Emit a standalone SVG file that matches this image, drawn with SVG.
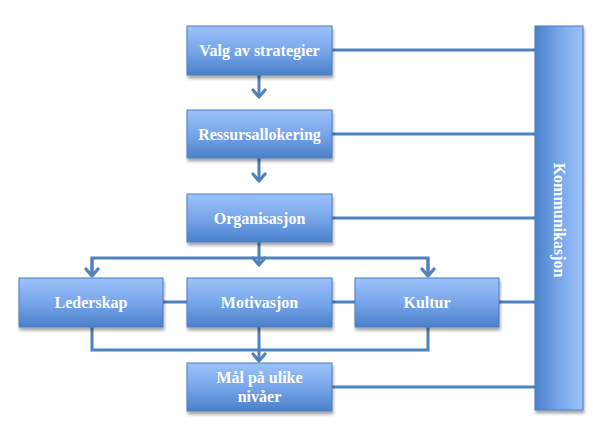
<svg xmlns="http://www.w3.org/2000/svg" width="604" height="436" viewBox="0 0 604 436">
<defs>
<linearGradient id="gv" x1="0" y1="0" x2="0" y2="1">
<stop offset="0" stop-color="#9cc2fb"/>
<stop offset="0.5" stop-color="#78a6ea"/>
<stop offset="1" stop-color="#4a80cb"/>
</linearGradient>
<linearGradient id="gh" x1="0" y1="0" x2="1" y2="0">
<stop offset="0" stop-color="#4a80cb"/>
<stop offset="0.5" stop-color="#78a6ea"/>
<stop offset="1" stop-color="#9cc2fb"/>
</linearGradient>
<filter id="sh" x="-10%" y="-10%" width="125%" height="130%">
<feGaussianBlur in="SourceAlpha" stdDeviation="1.5"/>
<feOffset dx="1" dy="2.5"/>
<feComponentTransfer><feFuncA type="linear" slope="0.35"/></feComponentTransfer>
<feMerge><feMergeNode/><feMergeNode in="SourceGraphic"/></feMerge>
</filter>
<marker id="ar" markerUnits="userSpaceOnUse" markerWidth="12" markerHeight="16" refX="10" refY="8" orient="auto" viewBox="0 0 12 16">
<path d="M3 2 L10 8 L3 14" fill="none" stroke="#4f81bd" stroke-width="3.2" stroke-linecap="round" stroke-linejoin="round"/>
</marker>
</defs>
<style>
.c{fill:none;stroke:#4f81bd;stroke-width:3}
.b{fill:url(#gv);stroke:#4a7ebb;stroke-width:1;filter:url(#sh)}
.t{font-family:"Liberation Serif","DejaVu Serif",serif;font-weight:bold;font-size:16px;fill:#ffffff;text-anchor:middle}
</style>
<g id="connectors">
<path class="c" d="M332 50 H535"/>
<path class="c" d="M332 134 H535"/>
<path class="c" d="M332 218 H535"/>
<path class="c" d="M499 302 H535"/>
<path class="c" d="M332 387 H535"/>
<path class="c" d="M259 75 V97" marker-end="url(#ar)"/>
<path class="c" d="M259 158 V181" marker-end="url(#ar)"/>
<path class="c" d="M259 242 V265" marker-end="url(#ar)"/>
<path class="c" d="M92 276 V258 H428 V276"/>
<path class="c" d="M92 258 V276" marker-end="url(#ar)"/>
<path class="c" d="M428 258 V276" marker-end="url(#ar)"/>
<path class="c" d="M163 302 H187"/>
<path class="c" d="M332 302 H355"/>
<path class="c" d="M92 327 V350 H428 V327"/>
<path class="c" d="M259 327 V361" marker-end="url(#ar)"/>
</g>
<g id="n-valg"><rect class="b" x="187" y="26" width="145" height="49"/><text class="t" x="259.5" y="56">Valg av strategier</text></g>
<g id="n-ressurs"><rect class="b" x="187" y="110" width="145" height="48"/><text class="t" x="259.5" y="140">Ressursallokering</text></g>
<g id="n-org"><rect class="b" x="187" y="194" width="145" height="48"/><text class="t" x="259.5" y="224">Organisasjon</text></g>
<g id="n-leder"><rect class="b" x="19" y="278" width="144" height="49"/><text class="t" x="91" y="308">Lederskap</text></g>
<g id="n-motiv"><rect class="b" x="187" y="278" width="145" height="49"/><text class="t" x="259.5" y="308">Motivasjon</text></g>
<g id="n-kultur"><rect class="b" x="355" y="278" width="144" height="49"/><text class="t" x="427" y="308">Kultur</text></g>
<g id="n-maal"><rect class="b" x="187" y="363" width="145" height="48"/><text class="t" x="259.5" y="383">Mål på ulike</text><text class="t" x="259.5" y="402">nivåer</text></g>
<g id="n-komm"><rect x="535" y="26" width="48" height="384" fill="url(#gh)" stroke="#4a7ebb" stroke-width="1" filter="url(#sh)"/><text class="t" transform="translate(554 220) rotate(90)" x="0" y="0">Kommunikasjon</text></g>
</svg>
